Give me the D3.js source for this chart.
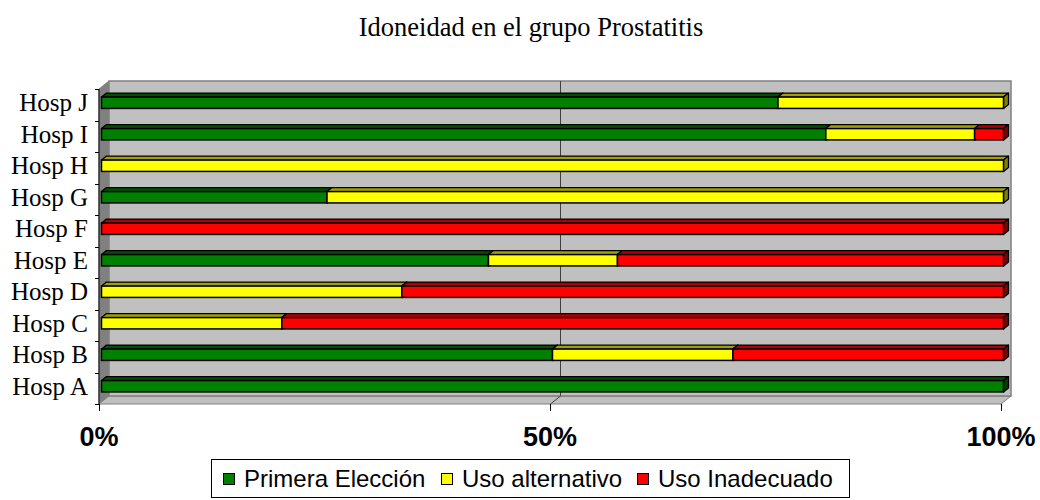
<!DOCTYPE html>
<html>
<head>
<meta charset="utf-8">
<script src="https://cdn.jsdelivr.net/npm/d3@7"></script>
<style>
  body { margin: 0; background: #fff; }
</style>
</head>
<body>
<div id="chart"></div>
<script>
(function(d3) {
  'use strict';

  // data, bottom row first
  var hospitals = ['Hosp A', 'Hosp B', 'Hosp C', 'Hosp D', 'Hosp E',
                   'Hosp F', 'Hosp G', 'Hosp H', 'Hosp I', 'Hosp J'];
  var primeraEleccion = [100, 50, 0, 0, 42.9, 0, 25, 0, 80.3, 75];
  var usoAlternativo  = [0, 20, 20, 33.3, 14.3, 0, 75, 100, 16.5, 25];
  var usoInadecuado   = [0, 30, 80, 66.7, 42.8, 100, 0, 0, 3.2, 0];
  var seriesNames = ['Primera Elección', 'Uso alternativo', 'Uso Inadecuado'];
  var xTickValues = [0, 50, 100];

  var width = 1040;
  var height = 500;

  // front plane of the 3d box, and depth offset
  var left = 99, right = 1001, top = 89, bottom = 404;
  var depthX = 10, depthY = -8;

  var colors = [
    { front: '#008000', top: '#005000', side: '#004000' },
    { front: '#ffff00', top: '#a0a000', side: '#808000' },
    { front: '#ff0000', top: '#b00000', side: '#800000' }
  ];

  var rows = hospitals.map(function(h, i) {
    return {
      name: h,
      s0: primeraEleccion[i],
      s1: usoAlternativo[i],
      s2: usoInadecuado[i]
    };
  });

  var x = d3.scaleLinear().domain([0, 100]).range([left, right]);
  var y = d3.scaleBand()
    .domain(hospitals.slice().reverse())
    .range([top, bottom]);

  var stack = d3.stack().keys(['s0', 's1', 's2']);
  var stacked = stack(rows);

  var svg = d3.select('#chart')
    .append('svg')
    .attr('width', width)
    .attr('height', height)
    .style('font-family', '"Liberation Serif", "Times New Roman", serif');

  function pts(arr) {
    return arr.map(function(p) { return p[0] + ',' + p[1]; }).join(' ');
  }

  // title
  svg.append('text')
    .attr('x', 531)
    .attr('y', 36)
    .attr('text-anchor', 'middle')
    .style('font-size', '26.5px')
    .text('Idoneidad en el grupo Prostatitis');

  // walls
  var walls = svg.append('g');
  walls.append('polygon')
    .attr('points', pts([[left, top], [left + depthX, top + depthY],
      [left + depthX, bottom + depthY], [left, bottom]]))
    .attr('fill', '#808080')
    .attr('stroke', '#808080');
  walls.append('polygon')
    .attr('points', pts([[left, bottom], [left + depthX, bottom + depthY],
      [right + depthX, bottom + depthY], [right, bottom]]))
    .attr('fill', '#c0c0c0')
    .attr('stroke', '#808080');
  walls.append('rect')
    .attr('x', left + depthX)
    .attr('y', top + depthY)
    .attr('width', right - left)
    .attr('height', bottom - top)
    .attr('fill', '#c0c0c0')
    .attr('stroke', '#808080')
    .attr('stroke-width', 1.5);

  // gridlines (50%)
  var grid = svg.append('g');
  grid.selectAll('.gv')
    .data([50])
    .enter()
    .append('line')
    .attr('x1', function(d) { return x(d) + depthX + 0.5; })
    .attr('x2', function(d) { return x(d) + depthX + 0.5; })
    .attr('y1', top + depthY)
    .attr('y2', bottom + depthY)
    .attr('stroke', '#404040')
    .attr('stroke-width', 1);
  grid.selectAll('.gf')
    .data([50])
    .enter()
    .append('line')
    .attr('x1', function(d) { return x(d) + depthX + 0.5; })
    .attr('x2', function(d) { return x(d) + 0.5; })
    .attr('y1', bottom + depthY)
    .attr('y2', bottom)
    .attr('stroke', '#404040')
    .attr('stroke-width', 1);

  // bars
  var barH = y.bandwidth() * 0.36;
  var bx = depthX * 0.25, by = depthY * 0.25;   // bar front face offset
  var bdx = depthX * 0.5, bdy = depthY * 0.5;   // bar depth

  var layers = svg.append('g')
    .selectAll('g')
    .data(stacked)
    .enter()
    .append('g');

  layers.each(function(layer, li) {
    var g = d3.select(this);
    var c = colors[li];
    var segs = g.selectAll('g')
      .data(layer.filter(function(d) { return d[1] - d[0] > 0; }))
      .enter()
      .append('g');

    segs.each(function(d) {
      var s = d3.select(this);
      var x0 = x(d[0]) + bx, x1 = x(d[1]) + bx;
      var y0 = y(d.data.name) + y.bandwidth() / 2 - barH / 2 + by;
      var y1 = y0 + barH;
      s.append('polygon')
        .attr('points', pts([[x0, y0], [x0 + bdx, y0 + bdy],
          [x1 + bdx, y0 + bdy], [x1, y0]]))
        .attr('fill', c.top)
        .attr('stroke', '#000')
        .attr('stroke-width', 1.3)
        .attr('stroke-linejoin', 'round');
      s.append('polygon')
        .attr('points', pts([[x1, y0], [x1 + bdx, y0 + bdy],
          [x1 + bdx, y1 + bdy], [x1, y1]]))
        .attr('fill', c.side)
        .attr('stroke', '#000')
        .attr('stroke-width', 1.3)
        .attr('stroke-linejoin', 'round');
      s.append('rect')
        .attr('x', x0)
        .attr('y', y0)
        .attr('width', x1 - x0)
        .attr('height', barH)
        .attr('fill', c.front)
        .attr('stroke', '#000')
        .attr('stroke-width', 1.5);
    });
  });

  // y axis
  var yAxis = svg.append('g');
  yAxis.append('line')
    .attr('x1', left).attr('x2', left)
    .attr('y1', top).attr('y2', bottom)
    .attr('stroke', '#000');
  var bounds = hospitals.map(function(h) { return y(h); }).concat([bottom]);
  yAxis.selectAll('.yt')
    .data(bounds)
    .enter()
    .append('line')
    .attr('x1', left - 4).attr('x2', left)
    .attr('y1', function(d) { return Math.round(d) + 0.5; })
    .attr('y2', function(d) { return Math.round(d) + 0.5; })
    .attr('stroke', '#000');
  yAxis.selectAll('.yl')
    .data(hospitals)
    .enter()
    .append('text')
    .attr('x', 88)
    .attr('y', function(d) { return y(d) + y.bandwidth() / 2 - 2; })
    .attr('text-anchor', 'end')
    .attr('dominant-baseline', 'central')
    .style('font-size', '25px')
    .text(function(d) { return d; });

  // x axis ticks and labels
  var xAxis = svg.append('g');
  xAxis.selectAll('.xt')
    .data(xTickValues)
    .enter()
    .append('line')
    .attr('x1', function(d) { return x(d) + 0.5; })
    .attr('x2', function(d) { return x(d) + 0.5; })
    .attr('y1', bottom)
    .attr('y2', bottom + 7)
    .attr('stroke', '#000');
  xAxis.selectAll('.xl')
    .data(xTickValues)
    .enter()
    .append('text')
    .attr('x', function(d) { return x(d); })
    .attr('y', 446)
    .attr('text-anchor', 'middle')
    .style('font-family', '"Liberation Sans", Arial, sans-serif')
    .style('font-weight', 'bold')
    .style('font-size', '27px')
    .text(function(d) { return d + '%'; });

  // legend
  var legend = svg.append('g')
    .style('font-family', '"Liberation Sans", Arial, sans-serif');
  legend.append('rect')
    .attr('x', 211.5).attr('y', 459.5)
    .attr('width', 638).attr('height', 38)
    .attr('fill', '#fff')
    .attr('stroke', '#000');
  var legendX = [223, 441, 637];
  var items = legend.selectAll('.item')
    .data(seriesNames)
    .enter()
    .append('g')
    .attr('transform', function(d, i) {
      return 'translate(' + legendX[i] + ',' + 473 + ')';
    });
  items.append('rect')
    .attr('x', 0.5).attr('y', 0.5)
    .attr('width', 11).attr('height', 11)
    .attr('fill', function(d, i) { return colors[i].front; })
    .attr('stroke', '#000');
  items.append('text')
    .attr('x', 21)
    .attr('y', 14)
    .style('font-size', '24px')
    .text(function(d) { return d; });

})(window.d3);
</script>
</body>
</html>
